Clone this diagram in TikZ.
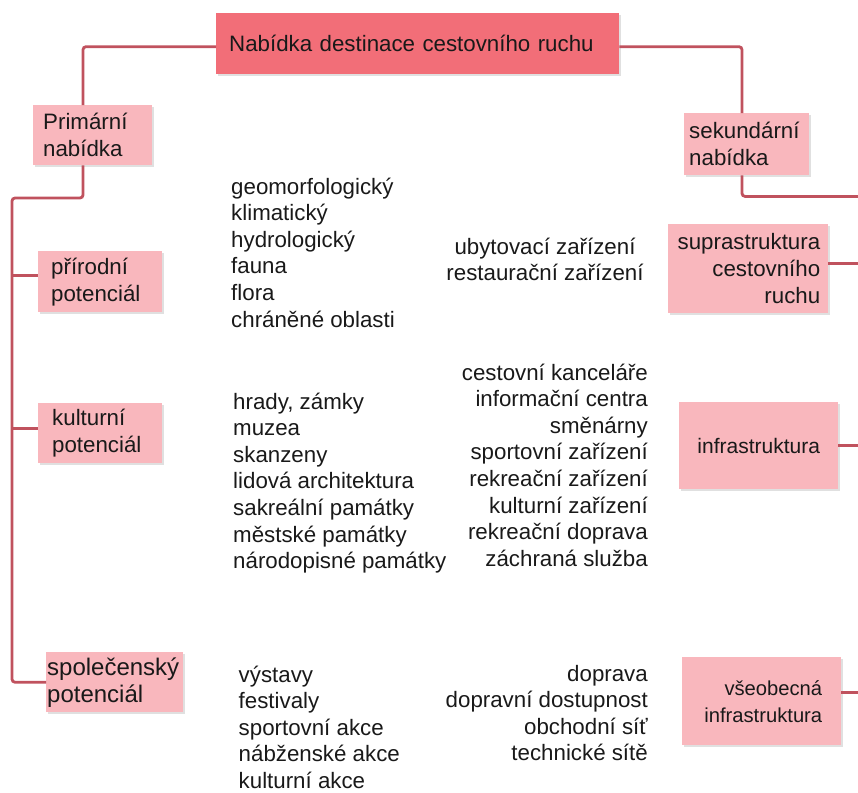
\documentclass[tikz,border=0pt]{standalone}
\usepackage{fontspec}
\setmainfont{Liberation Sans}
\usetikzlibrary{calc,shadows}

\definecolor{headfill}{RGB}{242,110,120}
\definecolor{subfill}{RGB}{249,183,189}
\definecolor{linkred}{RGB}{192,82,94}
\definecolor{ink}{RGB}{25,25,25}

\tikzset{
  boxshadow/.style={drop shadow={shadow xshift=2pt,shadow yshift=-2pt,opacity=0.35,fill=gray!70}},
  headbox/.style={fill=headfill,boxshadow,anchor=north west,inner ysep=0pt,
    text=ink,font=\fontsize{22.3}{27}\selectfont},
  subbox/.style={fill=subfill,boxshadow,anchor=north west,inner ysep=0pt,
    text=ink,font=\fontsize{22.3}{27}\selectfont},
  conn/.style={draw=linkred,line width=2.8pt,rounded corners=3pt},
  item/.style={text=ink,inner sep=0pt,font=\fontsize{22.3}{27}\selectfont}
}

\begin{document}
\begin{tikzpicture}[x=1pt,y=1pt]
\useasboundingbox (0,0) rectangle (858,-792);
\clip (0,0) rectangle (858,-792);

% boxes
\node[headbox,minimum height=61pt,inner xsep=13pt,text width=377pt,align=left]
  (top) at (216,-13) {Nabídka destinace cestovního ruchu};
\node[subbox,minimum height=60pt,inner xsep=10pt,text width=99pt,align=left]
  (prim) at (33,-105) {Primární\\nabídka};
\node[subbox,minimum height=62pt,inner xsep=5pt,text width=115pt,align=left]
  (sek) at (684,-113) {sekundární\\nabídka};
\node[subbox,minimum height=61pt,inner xsep=13pt,text width=98pt,align=left]
  (prir) at (38,-251) {přírodní\\potenciál};
\node[subbox,minimum height=60pt,inner xsep=14pt,text width=96pt,align=left]
  (kult) at (38,-403) {kulturní\\potenciál};
\node[subbox,minimum height=60pt,inner xsep=1pt,text width=135pt,align=left,
  font=\fontsize{24}{27}\selectfont]
  (spol) at (46,-652) {společenský\\potenciál};
\node[subbox,minimum height=89pt,inner xsep=8pt,text width=144pt,align=right]
  (supra) at (668,-224) {suprastruktura\\cestovního\\ruchu};
\node[subbox,minimum height=87pt,inner xsep=10pt,text width=139pt,align=center,
  font=\fontsize{21}{27}\selectfont]
  (infra) at (679,-402) {infrastruktura};
\node[subbox,minimum height=88pt,inner xsep=19pt,text width=121pt,align=right,
  font=\fontsize{20.2}{27}\selectfont]
  (vseo) at (682,-657) {všeobecná\\infrastruktura};

% helper points: left trunk and the rail beyond the right edge
\coordinate (trunktop) at (12,-198);
\coordinate (rail) at (862,0);

% connectors
\draw[conn] ([yshift=-3pt]top.west) -| ($(prim.north west)+(50,0)$);
\draw[conn] ([yshift=-3pt]top.east) -| ($(sek.north west)+(58,0)$);
\draw[conn] ($(prim.south west)+(50,0)$) |- (trunktop) -- (trunktop |- spol.west) -- (spol.west);
\draw[conn] ([yshift=6pt]prir.west -| trunktop) -- ([yshift=6pt]prir.west);
\draw[conn] ([yshift=5pt]kult.west -| trunktop) -- ([yshift=5pt]kult.west);
\draw[conn] ($(sek.south west)+(58,0)$) |- ($(sek.south west -| rail)+(0,-21)$);
\draw[conn] ([yshift=5pt]supra.east) -- ([yshift=5pt]supra.east -| rail);
\draw[conn] (infra.east) -- (infra.east -| rail);
\draw[conn] ([yshift=9pt]vseo.east) -- ([yshift=9pt]vseo.east -| rail);

% text lists
\foreach \t [count=\i] in {geomorfologický,klimatický,hydrologický,fauna,flora,chráněné oblasti}
  \node[item,anchor=base west] (nat-\i) at (231,{-194-26.6*(\i-1)}) {\t};
\foreach \t [count=\i] in {{hrady, zámky},muzea,skanzeny,lidová architektura,sakreální památky,městské památky,národopisné památky}
  \node[item,anchor=base west] (cul-\i) at (233,{-409-26.6*(\i-1)}) {\t};
\foreach \t [count=\i] in {výstavy,festivaly,sportovní akce,nábženské akce,kulturní akce}
  \node[item,anchor=base west] (soc-\i) at (238.5,{-682-26.6*(\i-1)}) {\t};
\foreach \t [count=\i] in {ubytovací zařízení,restaurační zařízení}
  \node[item,anchor=base] (sup-\i) at (545,{-254-26.6*(\i-1)}) {\t};
\foreach \t [count=\i] in {cestovní kanceláře,informační centra,směnárny,sportovní zařízení,rekreační zařízení,kulturní zařízení,rekreační doprava,záchraná služba}
  \node[item,anchor=base east] (inf-\i) at (648,{-380-26.6*(\i-1)}) {\t};
\foreach \t [count=\i] in {doprava,dopravní dostupnost,obchodní síť,technické sítě}
  \node[item,anchor=base east] (gen-\i) at (648,{-681-26.6*(\i-1)}) {\t};
\end{tikzpicture}
\end{document}
